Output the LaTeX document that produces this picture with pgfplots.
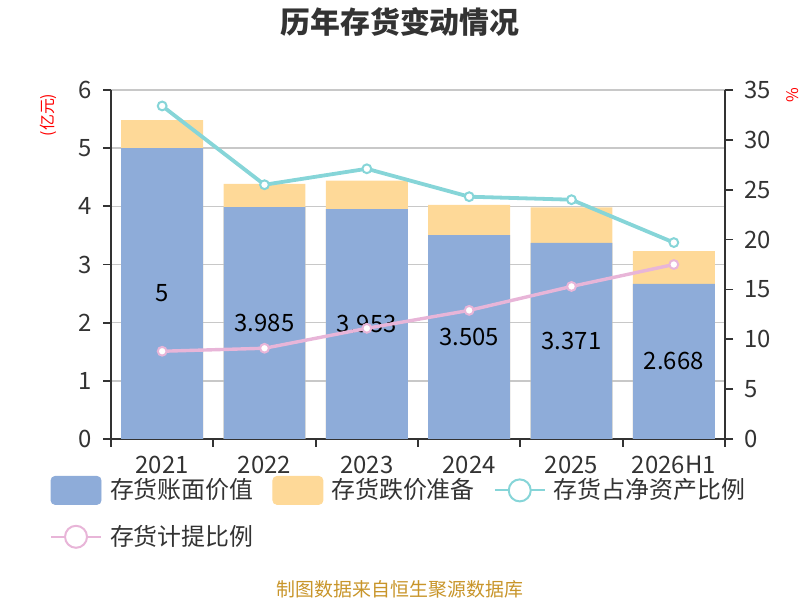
\documentclass[border=0pt]{standalone}
\usepackage{pgfplots}
\pgfplotsset{compat=1.18}
\usepackage{pgfplotstable}
\usepackage{fontspec}
\setmainfont{Noto Sans CJK SC}
\definecolor{cblue}{HTML}{8EACD9}
\definecolor{corange}{HTML}{FED998}
\definecolor{ccyan}{HTML}{86D5D8}
\definecolor{cpink}{HTML}{E8B5D8}
\definecolor{tgray}{HTML}{333333}
\definecolor{ggray}{HTML}{C8C8C8}
\definecolor{fgold}{HTML}{C8952A}

\pgfplotstableread{
x b r ratio prov
0 5 0.48 33.4 8.8
1 3.985 0.40 25.5 9.1
2 3.953 0.49 27.1 11.1
3 3.505 0.52 24.3 12.9
4 3.371 0.61 24.0 15.3
5 2.668 0.56 19.7 17.5
}\data

\pgfplotsset{
 base/.style={
  at={(55.5bp,80.5bp)}, anchor=south west, scale only axis,
  width=307bp, height=174.5bp,
  xmin=-0.5, xmax=5.5,
  font=\fontsize{12}{14}\selectfont,
  /pgf/number format/assume math mode=true,
  tick label style={text=tgray},
  axis line style={tgray, line width=0.9bp},
  every tick/.style={tgray, line width=0.9bp},
  tick align=outside,
  major tick length=4bp,
 }
}

\begin{document}
\begin{tikzpicture}[x=1bp,y=1bp]
\path[use as bounding box] (0,0) rectangle (400,300);
\begin{axis}[base,
  axis y line*=left, axis x line*=bottom,
  ymin=0, ymax=6, ytick={0,...,6},
  ymajorgrids, grid style={ggray, line width=0.7bp},
  xtick={-0.5,0.5,...,5.5},
  xticklabels={2021,2022,2023,2024,2025,2026H1,{}},
  xticklabel style={xshift=25.58bp, yshift=-1bp},
  yticklabel style={xshift=-2bp},
]
\addplot[ybar, bar width=0.8, bar shift=0pt, fill=corange, draw=none]
  table[x=x, y expr=\thisrow{b}+\thisrow{r}] \data;
\addplot[ybar, bar width=0.8, bar shift=0pt, fill=cblue, draw=none]
  table[x=x, y=b] \data;
\addplot[draw=none, mark=none, nodes near coords, point meta=explicit symbolic,
  nodes near coords style={anchor=center, font=\fontsize{12}{14}\selectfont, text=black}]
  table[x=x, y expr=\thisrow{b}/2, meta=b] \data;
\end{axis}
\begin{axis}[base,
  axis y line*=right, axis x line=none,
  ymin=0, ymax=35, ytick={0,5,...,35},
  yticklabel style={xshift=2bp},
  legend columns=3,
  legend cell align=left,
  legend style={draw=none, fill=none, inner sep=0pt, outer sep=0pt,
    at={(-0.0993,-0.106)}, anchor=north west,
    font=\fontsize{12}{14}\selectfont, text=tgray,
    nodes={inner sep=0pt},
    /tikz/every odd column/.append style={column sep=4bp},
    /tikz/every even column/.append style={column sep=9.5bp},
    row sep=10bp},
]
\addlegendimage{legend image code/.code={\fill[cblue, rounded corners=2bp] (0,-7bp) rectangle (25bp,7bp);}}
\addlegendentry{存货账面价值}
\addlegendimage{legend image code/.code={\fill[corange, rounded corners=2bp] (0,-7bp) rectangle (25bp,7bp);}}
\addlegendentry{存货跌价准备}
\addplot[ccyan, line width=1.9bp, mark=*, mark size=2.2bp,
  mark options={fill=white, draw=ccyan, line width=1bp},
  legend image code/.code={\draw[ccyan, line width=1bp] (0,0)--(25bp,0);
    \draw[ccyan, line width=1bp, fill=white] (12.5bp,0) circle (5.5bp);}]
  table[x=x, y=ratio] \data;
\addlegendentry{存货占净资产比例}
\addplot[cpink, line width=1.7bp, mark=*, mark size=2.2bp,
  mark options={fill=white, draw=cpink, line width=1bp},
  legend image code/.code={\draw[cpink, line width=1bp] (0,0)--(25bp,0);
    \draw[cpink, line width=1bp, fill=white] (12.5bp,0) circle (5.5bp);}]
  table[x=x, y=prov] \data;
\addlegendentry{存货计提比例}
\end{axis}
\node[font=\bfseries\fontsize{15}{18}\selectfont, text=tgray] at (200,289) {历年存货变动情况};
\node[font=\fontsize{9.5}{11}\selectfont, text=fgold] at (200,5.5) {制图数据来自恒生聚源数据库};
\node[rotate=90, text=red, font=\fontsize{8}{10}\selectfont] at (24,242.5) {(亿元)};
\node[rotate=90, text=red, font=\fontsize{8}{10}\selectfont] at (396.5,252.5) {\%};
\end{tikzpicture}
\end{document}
